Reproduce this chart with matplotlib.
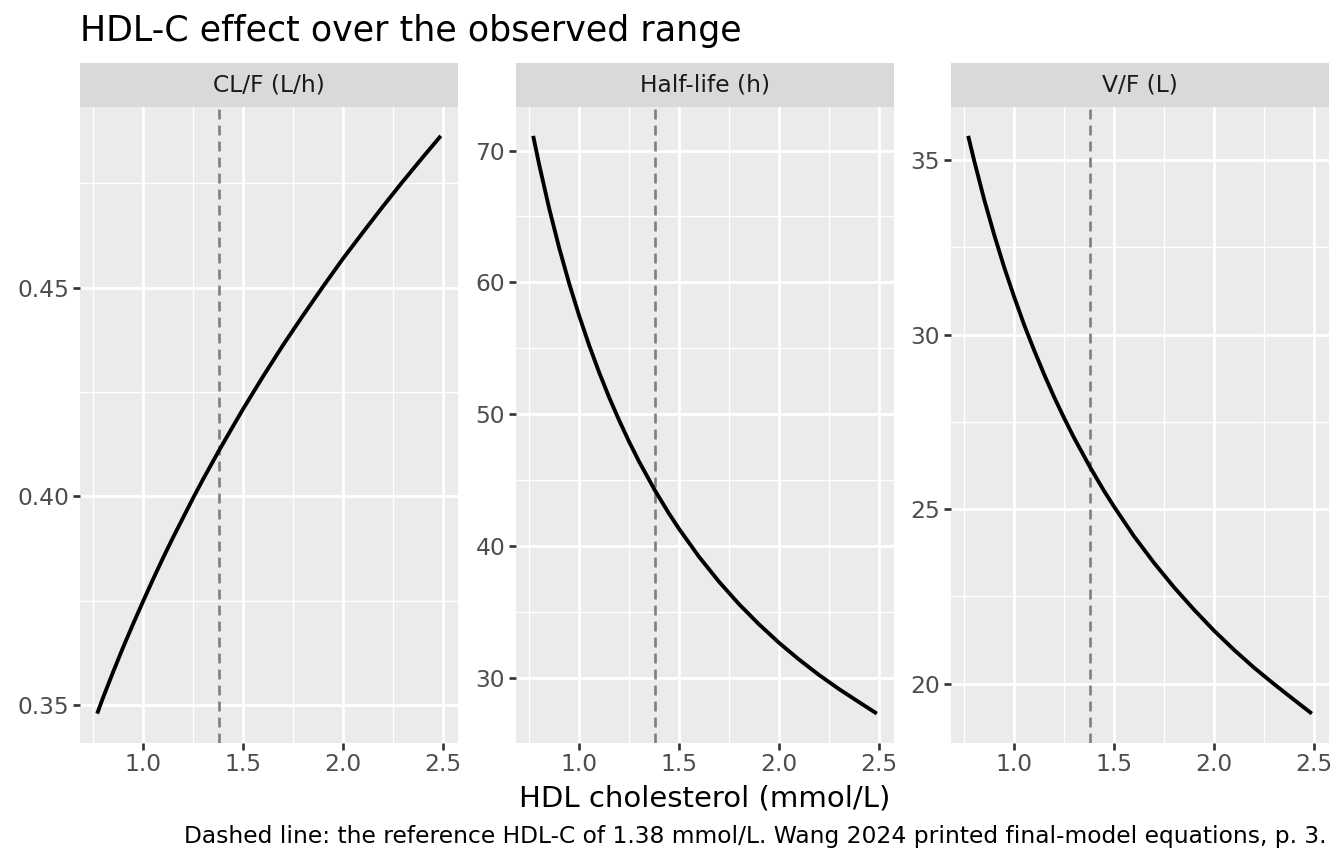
import matplotlib
matplotlib.use('Agg')
import matplotlib.pyplot as plt

# values
hdl = [0.77, 0.80, 0.85, 0.90, 0.95, 1.00, 1.05, 1.10, 1.15, 1.20, 1.25, 1.30, 1.38,
       1.45, 1.50, 1.60, 1.70, 1.80, 1.90, 2.00, 2.10, 2.20, 2.30, 2.40, 2.49]
clf = [0.3480, 0.3519, 0.3580, 0.3639, 0.3695, 0.3749, 0.3802, 0.3853, 0.3902, 0.3949,
       0.3996, 0.4041, 0.4110, 0.4168, 0.4209, 0.4287, 0.4362, 0.4433, 0.4502, 0.4569,
       0.4632, 0.4694, 0.4754, 0.4812, 0.4863]
half_life = [71.11, 68.93, 65.61, 62.62, 59.92, 57.47, 55.23, 53.17, 51.28, 49.54,
             47.91, 46.40, 44.20, 42.45, 41.30, 39.18, 37.29, 35.59, 34.06, 32.66,
             31.39, 30.22, 29.15, 28.16, 27.28]
vf = [35.69, 34.98, 33.87, 32.86, 31.93, 31.08, 30.28, 29.55, 28.86, 28.21,
      27.61, 27.04, 26.20, 25.52, 25.07, 24.22, 23.46, 22.76, 22.12, 21.52,
      20.97, 20.46, 19.99, 19.54, 19.14]

panel_titles = ['CL/F (L/h)', 'Half-life (h)', 'V/F (L)']
panel_values = [clf, half_life, vf]
y_major = [[0.35, 0.40, 0.45], [30, 40, 50, 60, 70], [20, 25, 30, 35]]
y_labels = [['0.35', '0.40', '0.45'], ['30', '40', '50', '60', '70'], ['20', '25', '30', '35']]
y_minor = [[0.375, 0.425, 0.475], [35, 45, 55, 65], [22.5, 27.5, 32.5]]
x_major = [1.0, 1.5, 2.0, 2.5]
x_labels = ['1.0', '1.5', '2.0', '2.5']
x_minor = [0.75, 1.25, 1.75, 2.25]
ref_hdl = 1.38

plt.rcParams['font.family'] = ['DejaVu Sans']

W, H = 1344, 864
fig = plt.figure(figsize=(14, 9), dpi=96)

lefts = [80, 516, 951]
pw = 378
top, bottom = 107, 742.5
strip_top = 62.5

for left, name, vals, ymaj, ylab, ymin in zip(lefts, panel_titles, panel_values,
                                               y_major, y_labels, y_minor):
    ax = fig.add_axes([left / W, 1 - bottom / H, pw / W, (bottom - top) / H])
    ax.set_facecolor('#EBEBEB')
    for s in ax.spines.values():
        s.set_visible(False)
    ax.set_axisbelow(True)

    ax.plot(hdl, vals, color='black', lw=2.9, solid_capstyle='butt',
            solid_joinstyle='round', zorder=3)
    ax.axvline(ref_hdl, color='#7F7F7F', lw=2.0, dashes=(3.7, 2.3), zorder=2)
    ax.margins(x=0.05, y=0.05)

    ax.set_xticks(x_major)
    ax.set_xticklabels(x_labels)
    ax.set_xticks(x_minor, minor=True)
    ax.set_yticks(ymaj)
    ax.set_yticklabels(ylab)
    ax.set_yticks(ymin, minor=True)

    ax.grid(which='major', color='white', lw=2.1)
    ax.grid(which='minor', color='white', lw=1.05)
    ax.tick_params(which='major', length=5.2, width=2.0, color='#333333',
                   labelsize=17.5, labelcolor='#4D4D4D', pad=3)
    ax.tick_params(which='minor', length=0)

    # facet strip
    sx = fig.add_axes([left / W, 1 - top / H, pw / W, (top - strip_top) / H])
    sx.set_facecolor('#D9D9D9')
    sx.set_xticks([])
    sx.set_yticks([])
    for s in sx.spines.values():
        s.set_visible(False)
    sx.text(0.5, 0.5, name, ha='center', va='center', fontsize=17.5,
            color='#1A1A1A', transform=sx.transAxes)

fig.text(80 / W, 1 - 40.7 / H, 'HDL-C effect over the observed range',
         ha='left', va='baseline', fontsize=26.2, color='black')
fig.text(704.5 / W, 1 - 806.5 / H, 'HDL cholesterol (mmol/L)',
         ha='center', va='baseline', fontsize=21.8, color='black')
fig.text(1327 / W, 1 - 843 / H,
         'Dashed line: the reference HDL-C of 1.38 mmol/L. Wang 2024 printed final-model equations, p. 3.',
         ha='right', va='baseline', fontsize=17.5, color='black')

fig.savefig('out.png', dpi=96, facecolor='white')
